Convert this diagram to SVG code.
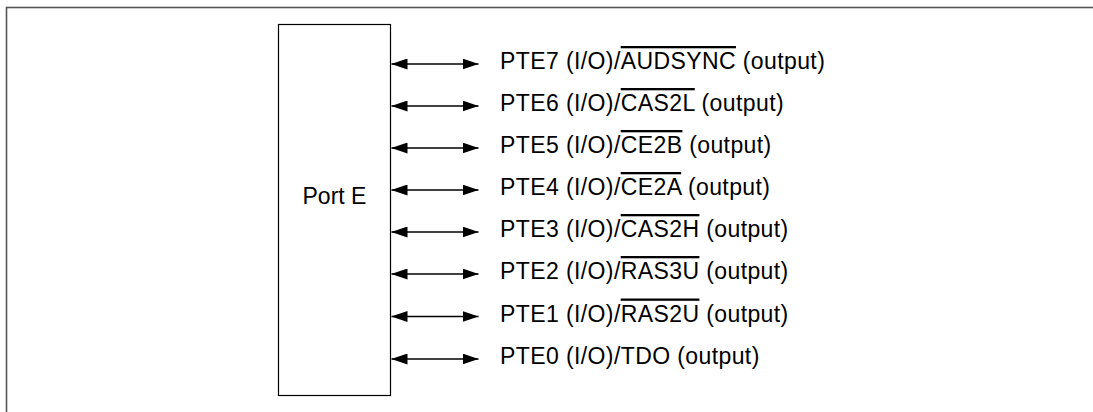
<svg xmlns="http://www.w3.org/2000/svg" width="1093" height="412" viewBox="0 0 1093 412">
<defs>
<marker id="ah" viewBox="0 0 16 11" refX="16" refY="5.5" markerWidth="16" markerHeight="11" markerUnits="userSpaceOnUse" orient="auto-start-reverse">
<path d="M0,0 L16,5.5 L0,11 Z" fill="#000"/>
</marker>
<style>
.lbl{font-family:"Liberation Sans",Arial,sans-serif;font-size:23px;fill:#000}
.pin{letter-spacing:0.4px}
.ol{text-decoration:overline}
.con line{stroke:#000;stroke-width:1.4;marker-start:url(#ah);marker-end:url(#ah)}
</style>
</defs>
<rect width="1093" height="412" fill="#fff"/>
<rect x="6.5" y="7.5" width="1100" height="420" fill="none" stroke="#555" stroke-width="1.6"/>
<g id="port-e">
<rect x="278.5" y="24.5" width="112" height="371" fill="#fff" stroke="#000" stroke-width="1.2"/>
<text class="lbl" x="334.5" y="204" text-anchor="middle">Port E</text>
</g>
<g id="connectors" class="con">
<line x1="391.5" y1="64" x2="478.5" y2="64"/>
<line x1="391.5" y1="106" x2="478.5" y2="106"/>
<line x1="391.5" y1="148" x2="478.5" y2="148"/>
<line x1="391.5" y1="190" x2="478.5" y2="190"/>
<line x1="391.5" y1="232" x2="478.5" y2="232"/>
<line x1="391.5" y1="274" x2="478.5" y2="274"/>
<line x1="391.5" y1="316.5" x2="478.5" y2="316.5"/>
<line x1="391.5" y1="359" x2="478.5" y2="359"/>
</g>
<g id="pte7"><text class="lbl pin" x="500" y="69">PTE7 (I/O)/<tspan class="ol">AUDSYNC</tspan> (output)</text></g>
<g id="pte6"><text class="lbl pin" x="500" y="111">PTE6 (I/O)/<tspan class="ol">CAS2L</tspan> (output)</text></g>
<g id="pte5"><text class="lbl pin" x="500" y="153">PTE5 (I/O)/<tspan class="ol">CE2B</tspan> (output)</text></g>
<g id="pte4"><text class="lbl pin" x="500" y="195">PTE4 (I/O)/<tspan class="ol">CE2A</tspan> (output)</text></g>
<g id="pte3"><text class="lbl pin" x="500" y="237">PTE3 (I/O)/<tspan class="ol">CAS2H</tspan> (output)</text></g>
<g id="pte2"><text class="lbl pin" x="500" y="279">PTE2 (I/O)/<tspan class="ol">RAS3U</tspan> (output)</text></g>
<g id="pte1"><text class="lbl pin" x="500" y="321.5">PTE1 (I/O)/<tspan class="ol">RAS2U</tspan> (output)</text></g>
<g id="pte0"><text class="lbl pin" x="500" y="364">PTE0 (I/O)/TDO (output)</text></g>
</svg>
